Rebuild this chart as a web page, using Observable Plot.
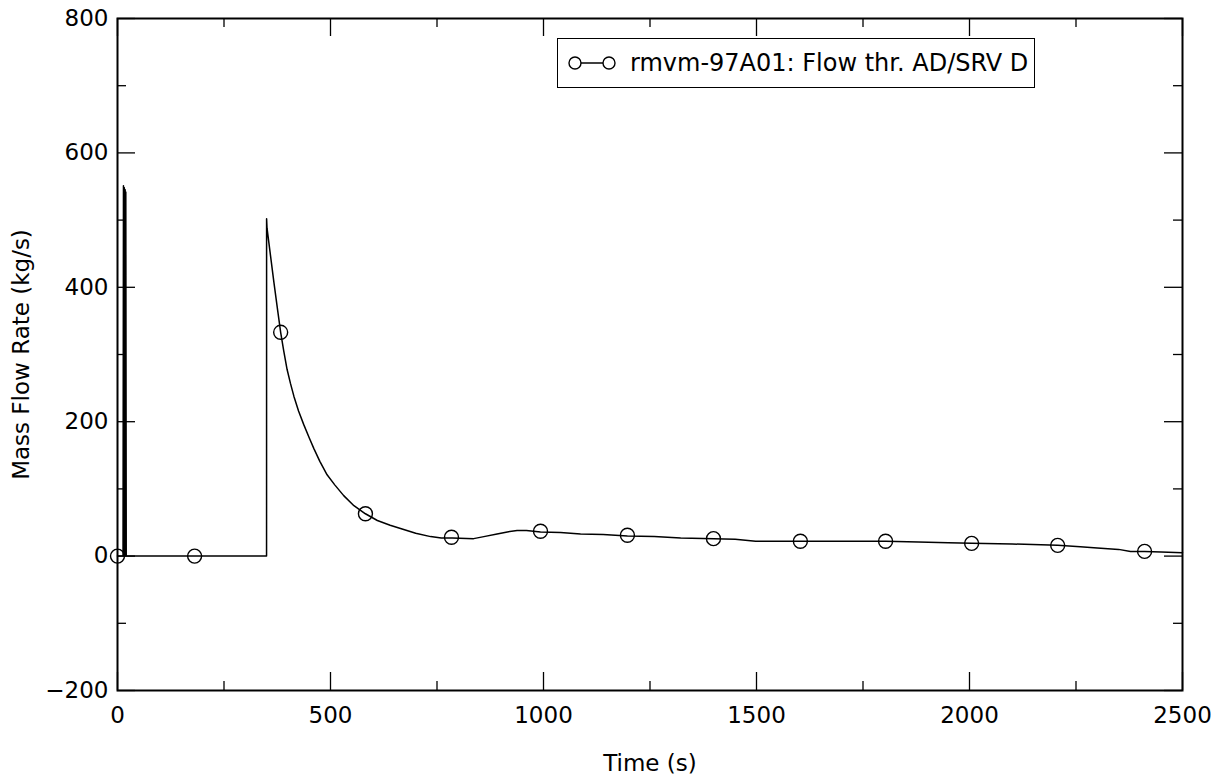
<!DOCTYPE html>
<html>
<head>
<meta charset="utf-8">
<script src="https://cdn.jsdelivr.net/npm/d3@7"></script>
<script src="https://cdn.jsdelivr.net/npm/@observablehq/plot@0.6"></script>
<style>
  html, body { margin: 0; padding: 0; background: white; }
  #wrap { position: relative; width: 1225px; height: 774px; font-family: "DejaVu Sans", sans-serif; }
  #legend {
    position: absolute; left: 557px; top: 38px; width: 476px; height: 48px;
    border: 1.5px solid black; background: white; box-sizing: content-box;
    display: flex; align-items: center; font-size: 24px; color: black; white-space: nowrap;
  }
  #legend svg { margin-left: 10px; margin-right: 14px; }
</style>
</head>
<body>
<div id="wrap"></div>
<script>
// Series: rmvm-97A01 Flow thr. AD/SRV D
const seriesName = "rmvm-97A01: Flow thr. AD/SRV D";
const time = [0, 13, 14, 15, 16, 17, 18, 19, 19.5, 20.5, 349.9, 350, 351, 358, 367, 375, 383, 390, 398, 406, 414, 425, 437, 450, 461, 475, 492, 510, 531, 555, 582, 610, 640, 670, 700, 735, 760, 786, 836, 860, 891, 915, 938, 960, 993, 1040, 1087, 1140, 1197, 1260, 1322, 1400, 1450, 1498, 1600, 1700, 1803, 1880, 1950, 2005, 2100, 2207, 2260, 2300, 2350, 2378, 2411, 2450, 2500];
const flow = [0, 0, 551, 0, 548, 0, 545, 0, 542, 0, 0, 502, 488, 453, 408, 370, 333, 306, 278, 257, 238, 216, 196, 176, 160, 141, 121, 106, 90, 75, 63, 53, 46, 40, 34, 29, 27, 27, 26, 29, 33, 36, 38, 38, 36, 35, 33, 32, 30, 29, 27, 26, 25, 22, 22, 22, 22, 21, 20, 19, 18, 16, 14, 12, 10, 7, 7, 6, 5];
const markerTime = [0, 181, 383, 582, 784, 993, 1197, 1399, 1603, 1803, 2005, 2207, 2411];
const markerFlow = [0, 0, 333, 63, 28, 37, 31, 26, 22, 22, 19, 16, 7];
const xMajor = [0, 500, 1000, 1500, 2000, 2500];
const xMinor = [250, 750, 1250, 1750, 2250];
const yMajor = [-200, 0, 200, 400, 600, 800];
const yMinor = [-100, 100, 300, 500, 700];
const xLabel = "Time (s)";
const yLabel = "Mass Flow Rate (kg/s)";

const lineData = time.map((t, i) => ({t, v: flow[i]}));
const markerData = markerTime.map((t, i) => ({t, v: markerFlow[i]}));

const W = 1225, H = 774, mL = 117, mR = 43, mT = 18, mB = 84;
const innerW = W - mL - mR, innerH = H - mT - mB;
const majorLen = 18, minorLen = 9;
const fmt = d3.format("d");

const chart = Plot.plot({
  width: W, height: H,
  marginLeft: mL, marginRight: mR, marginTop: mT, marginBottom: mB,
  x: {domain: [0, 2500]},
  y: {domain: [-200, 800]},
  style: {fontFamily: "DejaVu Sans, sans-serif", fontSize: "23px", color: "black", background: "white", overflow: "visible"},
  marks: [
    // tick marks inward on all four sides
    Plot.tickX(xMajor, {x: d => d, stroke: "black", strokeWidth: 1.3, insetTop: innerH - majorLen}),
    Plot.tickX(xMajor, {x: d => d, stroke: "black", strokeWidth: 1.3, insetBottom: innerH - majorLen}),
    Plot.tickX(xMinor, {x: d => d, stroke: "black", strokeWidth: 1.3, insetTop: innerH - minorLen}),
    Plot.tickX(xMinor, {x: d => d, stroke: "black", strokeWidth: 1.3, insetBottom: innerH - minorLen}),
    Plot.tickY(yMajor, {y: d => d, stroke: "black", strokeWidth: 1.3, insetRight: innerW - majorLen}),
    Plot.tickY(yMajor, {y: d => d, stroke: "black", strokeWidth: 1.3, insetLeft: innerW - majorLen}),
    Plot.tickY(yMinor, {y: d => d, stroke: "black", strokeWidth: 1.3, insetRight: innerW - minorLen}),
    Plot.tickY(yMinor, {y: d => d, stroke: "black", strokeWidth: 1.3, insetLeft: innerW - minorLen}),
    Plot.axisX({ticks: xMajor, tickSize: 0, tickPadding: 16, tickFormat: fmt, label: xLabel, labelAnchor: "center", labelArrow: "none", labelOffset: 80}),
    Plot.axisY({ticks: yMajor, tickSize: 0, tickPadding: 9, tickFormat: fmt, label: yLabel, labelAnchor: "center", labelArrow: "none", labelOffset: 105}),
    Plot.line(lineData, {x: "t", y: "v", stroke: "black", strokeWidth: 1.5}),
    Plot.dot(markerData, {x: "t", y: "v", r: 7, stroke: "black", strokeWidth: 1.4, fill: "none"}),
    Plot.frame({stroke: "black", strokeWidth: 2})
  ]
});

const wrap = document.getElementById("wrap");
wrap.appendChild(chart);

const legend = document.createElement("div");
legend.id = "legend";
legend.innerHTML = `<svg width="48" height="20" viewBox="0 0 48 20">
  <line x1="7" y1="10" x2="41" y2="10" stroke="black" stroke-width="1.5"/>
  <circle cx="7" cy="10" r="6" fill="white" stroke="black" stroke-width="1.4"/>
  <circle cx="41" cy="10" r="6" fill="white" stroke="black" stroke-width="1.4"/>
</svg><span></span>`;
legend.querySelector("span").textContent = seriesName;
wrap.appendChild(legend);
</script>
</body>
</html>
